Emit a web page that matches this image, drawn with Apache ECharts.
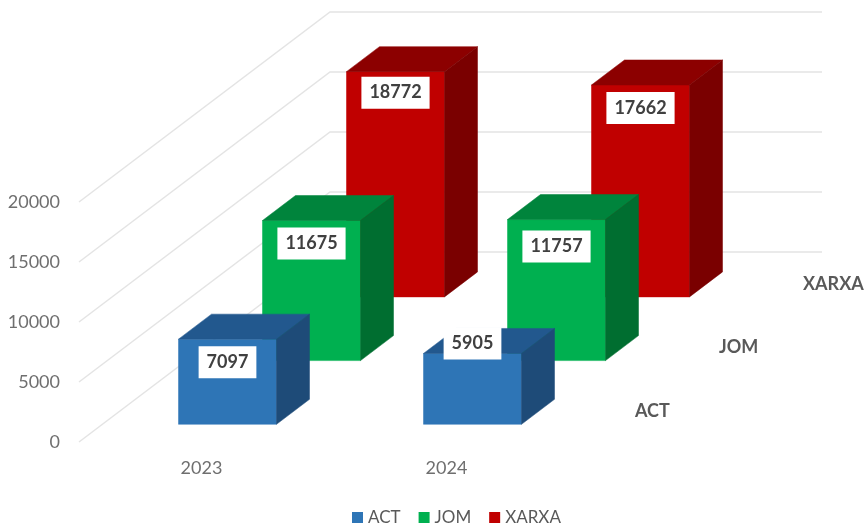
<!DOCTYPE html>
<html>
<head>
<meta charset="utf-8" />
<style>
  html, body { margin: 0; padding: 0; background: #fff; }
  #chart { width: 864px; height: 528px; }
</style>
<script src="https://cdn.jsdelivr.net/npm/echarts@6/dist/echarts.min.js"></script>
</head>
<body>
<div id="chart"></div>
<script>
const years = ["2023", "2024"];
const seriesNames = ["ACT", "JOM", "XARXA"];
const actValues = [7097, 5905];
const jomValues = [11675, 11757];
const xarxaValues = [18772, 17662];
const yTicks = [0, 5000, 10000, 15000, 20000];

const FONT = "Lato, 'Open Sans', sans-serif";
const palette = {
  ACT: { front: "#2e75b6", top: "#22588e", side: "#1e4b78" },
  JOM: { front: "#00b050", top: "#00843c", side: "#006e30" },
  XARXA: { front: "#c00000", top: "#8c0000", side: "#7a0000" },
};

// fake 3D: each series sits one step further back on the floor than the previous one
const wallShift = [251, -190];
const wallEnd = 822;
const rowShift = [84, -63.7];
const firstRow = [26, -17.7];
const barWidth = 98;
const barDepth = [33, -25];
// how far the white label sits below the bar's top edge, by year (hand placed in the original)
const labelDrop = { ACT: [23, -10], JOM: [23, 27], XARXA: [21, 23] };

function rowOffset(row) {
  return [firstRow[0] + rowShift[0] * row, firstRow[1] + rowShift[1] * row];
}

function poly(points, fill) {
  return { type: "polygon", shape: { points }, style: { fill, stroke: fill, lineWidth: 0.5 } };
}

function barSeries(name, values, row) {
  const colors = palette[name];
  return {
    name,
    type: "custom",
    z: 10 - row,
    itemStyle: { color: colors.front },
    data: values.map((v, i) => [i, v]),
    renderItem(params, api) {
      const [dx, dy] = rowOffset(row);
      const base = api.coord([api.value(0), 0]);
      const peak = api.coord([api.value(0), api.value(1)]);
      const l = base[0] + dx - barWidth / 2;
      const r = l + barWidth;
      const b = base[1] + dy;
      const t = peak[1] + dy;
      const [ox, oy] = barDepth;
      return {
        type: "group",
        children: [
          poly([[l, b], [r, b], [r, t], [l, t]], colors.front),
          poly([[l, t], [r, t], [r + ox, t + oy], [l + ox, t + oy]], colors.top),
          poly([[r, b], [r + ox, b + oy], [r + ox, t + oy], [r, t]], colors.side),
          {
            type: "text",
            style: {
              text: String(api.value(1)),
              x: (l + r) / 2,
              y: t + labelDrop[name][api.value(0)],
              align: "center",
              verticalAlign: "middle",
              fill: "#404040",
              font: "bold 18px " + FONT,
              backgroundColor: "#ffffff",
              padding: [7, 8],
            },
          },
        ],
      };
    },
  };
}

const wallSeries = {
  type: "custom",
  z: 1,
  silent: true,
  data: yTicks.map((v) => [0, v]),
  renderItem(params, api) {
    const y = api.coord([0, api.value(1)])[1];
    const x = params.coordSys.x;
    const bx = x + wallShift[0];
    const by = y + wallShift[1];
    return {
      type: "polyline",
      shape: { points: [[x, y], [bx, by], [wallEnd, by]] },
      style: { fill: "none", stroke: "#e4e4e4", lineWidth: 1.5 },
    };
  },
};

// depth axis labels, left aligned along the floor on the right of the last category
const depthLabels = {
  type: "custom",
  z: 20,
  silent: true,
  data: seriesNames.map((n, i) => [1, i]),
  renderItem(params, api) {
    const row = api.value(1);
    const base = api.coord([api.value(0), 0]);
    const [dx, dy] = rowOffset(row);
    return {
      type: "text",
      style: {
        text: seriesNames[row],
        x: base[0] + dx + 162.5,
        y: base[1] + dy - 13,
        align: "left",
        verticalAlign: "middle",
        fill: "#595959",
        font: "bold 18px " + FONT,
      },
    };
  },
};

const chart = echarts.init(document.getElementById("chart"));
chart.setOption({
  animation: false,
  backgroundColor: "#ffffff",
  textStyle: { fontFamily: FONT },
  grid: { left: 79, top: 202, width: 490, height: 240 },
  legend: {
    data: seriesNames,
    left: 347,
    top: 504,
    icon: "rect",
    itemWidth: 11,
    itemHeight: 11,
    itemGap: 18,
    textStyle: { color: "#595959", fontSize: 17, fontFamily: FONT },
  },
  xAxis: {
    type: "category",
    data: years,
    axisLine: { show: false },
    axisTick: { show: false },
    axisLabel: { color: "#6f6f6f", fontSize: 18, margin: 17 },
  },
  yAxis: {
    type: "value",
    min: 0,
    max: 20000,
    interval: 5000,
    axisLine: { show: false },
    axisTick: { show: false },
    splitLine: { show: false },
    axisLabel: { color: "#6f6f6f", fontSize: 18, margin: 19, formatter: (v) => String(v) },
  },
  series: [
    wallSeries,
    barSeries("ACT", actValues, 0),
    barSeries("JOM", jomValues, 1),
    barSeries("XARXA", xarxaValues, 2),
    depthLabels,
  ],
});
</script>
</body>
</html>
